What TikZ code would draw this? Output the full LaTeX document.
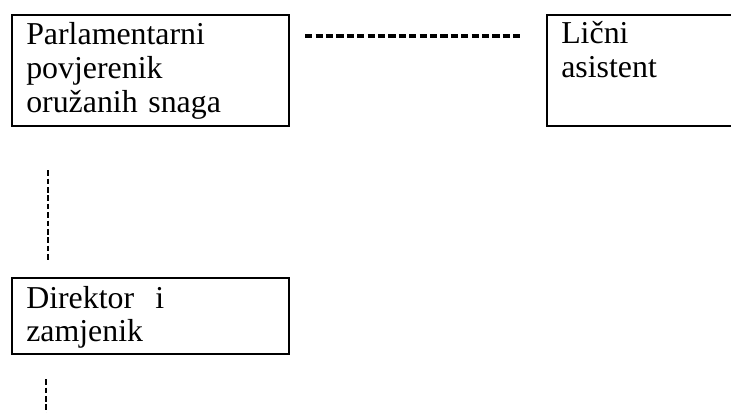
\documentclass[tikz,border=0pt]{standalone}
\usepackage{fontspec}
\setmainfont{Liberation Serif}
\usetikzlibrary{calc}

\tikzset{
  orgbox/.style  = {shape=rectangle, draw, line width=1.6pt,
                    anchor=north west, inner sep=0pt},
  orgtext/.style = {anchor=base west, inner sep=0pt, align=left,
                    font=\fontsize{23.9pt}{25.2pt}\selectfont},
  hlink/.style   = {draw, line width=2.7pt, dash pattern=on 5.4pt off 2.4pt},
  vlink/.style   = {draw, line width=1.3pt, dash pattern=on 4.2pt off 2.1pt}
}

\begin{document}
\begin{tikzpicture}
  [
    x = 0.75pt,
    y = -0.75pt
  ]
  \clip (0,0) rectangle (731,413);
  % boxes
  \node [orgbox, minimum width=207.75pt, minimum height=83.25pt] (pov) at (11,14) {};
  \node [orgbox, minimum width=150pt, minimum height=83.25pt] (asis) at (546,14) {};
  \node [orgbox, minimum width=207.75pt, minimum height=57pt] (dir) at (11,277) {};
  % texts
  \node [orgtext, text width=200pt] (povtext) at ($(pov.north west)+(15,31)$)
    {Parlamentarni\\povjerenik\\oružanih snaga};
  \node [orgtext, text width=130pt] (asistext) at ($(asis.north west)+(15,30)$)
    {Lični\\asistent};
  \node [orgtext, text width=200pt] (dirtext) at ($(dir.north west)+(15,31)$)
    {Direktor~~i\\zamjenik};
  % connectors
  \draw [hlink] ($(pov.north east)+(15,22)$) -- ($(asis.north west)+(-24,22)$);
  \draw [vlink] ($(pov.south west)+(37,43)$) -- ($(dir.north west)+(37,-17)$);
  \coordinate (down) at (46,420);
  \draw [vlink] ($(dir.south west)+(35,24)$) -- (down -| {$(dir.south west)+(35,24)$});
\end{tikzpicture}
\end{document}
